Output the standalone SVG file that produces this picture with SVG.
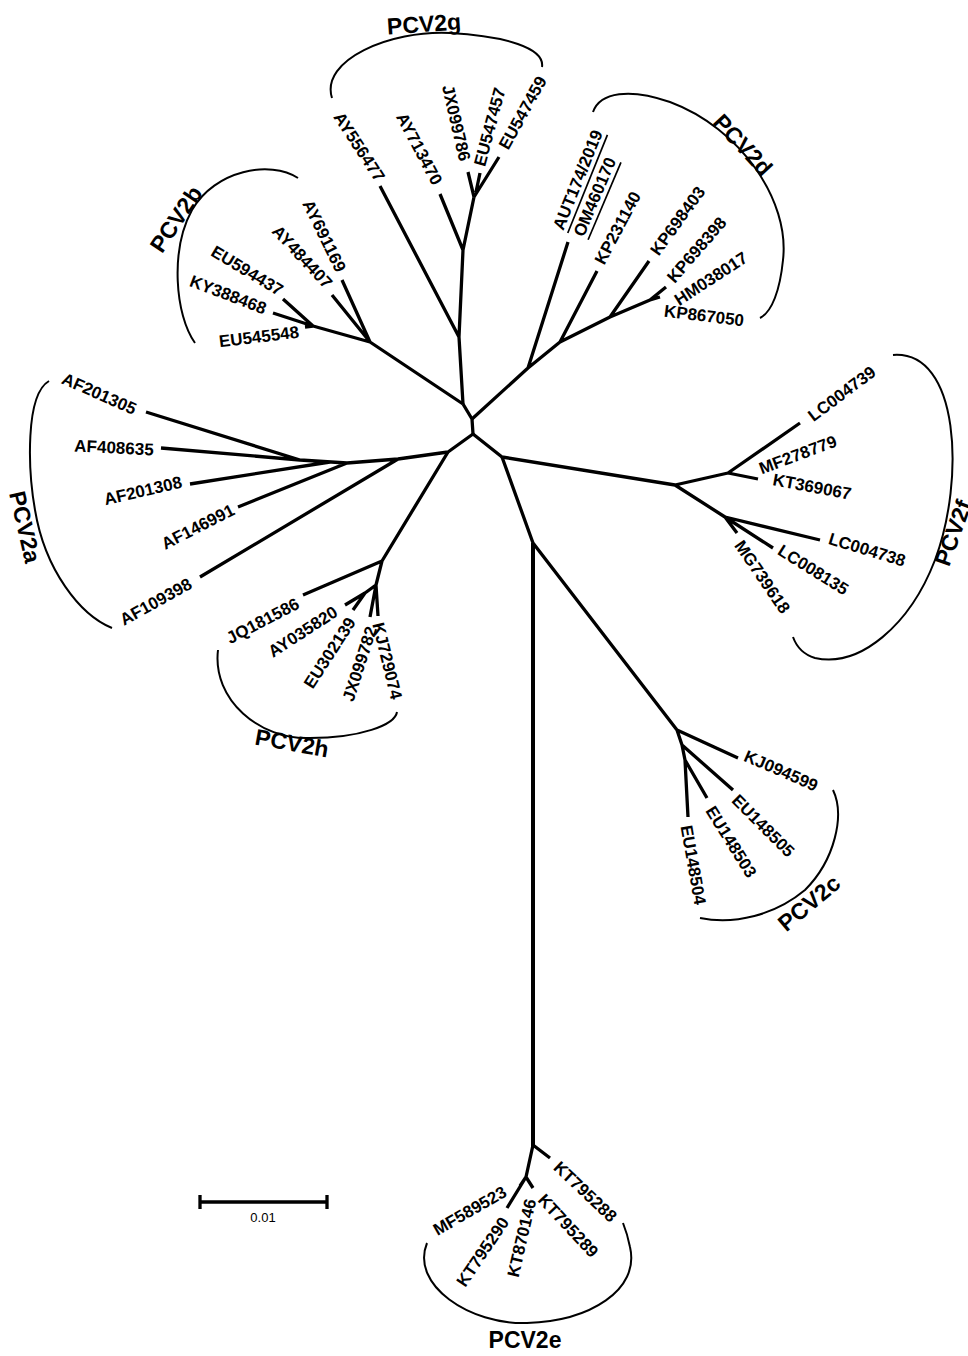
<svg xmlns="http://www.w3.org/2000/svg" width="968" height="1356" viewBox="0 0 968 1356">
<style>
.br{fill:none;stroke:#000;stroke-width:3.3;stroke-linejoin:round;stroke-linecap:butt}
.stem{fill:none;stroke:#000;stroke-width:4}
.arc{fill:none;stroke:#000;stroke-width:2}
.lb{font-family:"Liberation Sans",Arial,sans-serif;font-weight:bold;font-size:17px;text-anchor:middle;dominant-baseline:central;fill:#000}
.gl{font-family:"Liberation Sans",Arial,sans-serif;font-weight:bold;font-size:23px;text-anchor:middle;dominant-baseline:central;fill:#000}
.sc{font-family:"Liberation Sans",Arial,sans-serif;font-size:13px;text-anchor:middle;dominant-baseline:central;fill:#000}
</style>
<rect width="968" height="1356" fill="#fff"/>
<g id="connectors">
<path class="br" d="M463,404 L472,419 L473,434"/>
<path class="br" d="M472,419 L528,368 L560,342 L610,317 L650,300 L666,287 M650,300 L660,297 M528,368 L568,242 M560,342 L597,271 M610,317 L649,261"/>
<path class="br" d="M463,404 L459,337 L463,250 L474,197 M459,337 L380,186 M463,250 L440,194 M474,197 L468,172 M476,192 L480,173 M474,197 L499,157"/>
<path class="br" d="M463,404 L370,342 L342,280 M370,342 L332,295 M370,342 L313,326 L283,299 M313,326 L273,313 M313,326 L305,327"/>
<path class="br" d="M473,434 L448,452 L398,459 L347,463 L300,460 L146,412 M300,460 L161,448 M330,462 L190,484 M347,463 L238,507 M398,459 L200,577"/>
<path class="br" d="M448,452 L382,561 L376,585 M382,561 L303,595 M376,585 L365,593 L345,605 M365,593 L353,610 M376,585 L370,617 M376,585 L378,616"/>
<path class="br" d="M473,434 L502,457 L675,485 L728,473 L800,423 M728,473 L758,479 M675,485 L725,517 L820,540 M725,517 L773,548 M725,517 L737,533"/>
<path class="br" d="M502,457 L533,543 M533,543 L677,730 L738,758 M677,730 L682,745 L733,790 M682,745 L685,760 L707,798 M685,760 L688,817"/>
<path class="stem" d="M533,543 L533,1146"/>
<path class="br" d="M533,1145 L550,1158 M533,1145 L526,1177 L507,1208 M526,1177 L520,1186 M526,1177 L533,1188"/>
<path class="br" d="M200,1202 L327,1202 M200,1195 L200,1209 M327,1195 L327,1209"/>
</g>
<g id="PCV2g">
<path class="arc" d="M332,98 C320,60 390,30 450,33 C505,36 545,48 542,67"/>
<text class="gl" transform="translate(424,24) rotate(-4)">PCV2g</text>
<text class="lb" transform="translate(359,147) rotate(57)">AY556477</text>
<text class="lb" transform="translate(419,149) rotate(62)">AY713470</text>
<text class="lb" transform="translate(456,123) rotate(77)">JX099786</text>
<text class="lb" transform="translate(490,127) rotate(-75)">EU547457</text>
<text class="lb" transform="translate(523,113) rotate(-61)">EU547459</text>
</g>
<g id="PCV2d">
<path class="arc" d="M593,112 C600,92 630,88 670,102 C740,128 790,200 783,260 C780,290 772,312 760,318"/>
<text class="gl" transform="translate(743,145) rotate(47)">PCV2d</text>
<text class="lb" text-decoration="underline" transform="translate(578,180) rotate(-68)">AUT174/2019</text>
<text class="lb" text-decoration="underline" transform="translate(595,197) rotate(-67)">OM460170</text>
<text class="lb" transform="translate(618,228) rotate(-62)">KP231140</text>
<text class="lb" transform="translate(678,221) rotate(-54)">KP698403</text>
<text class="lb" transform="translate(697,250) rotate(-49)">KP698398</text>
<text class="lb" transform="translate(711,279) rotate(-33)">HM038017</text>
<text class="lb" transform="translate(704,316) rotate(7)">KP867050</text>
</g>
<g id="PCV2b">
<path class="arc" d="M298,178 C270,160 215,170 192,210 C170,250 175,315 195,343"/>
<text class="gl" transform="translate(176,219) rotate(-56)">PCV2b</text>
<text class="lb" transform="translate(324,236) rotate(64)">AY691169</text>
<text class="lb" transform="translate(302,257) rotate(47)">AY484407</text>
<text class="lb" transform="translate(247,271) rotate(31)">EU594437</text>
<text class="lb" transform="translate(228,295) rotate(21)">KY388468</text>
<text class="lb" transform="translate(259,337) rotate(-7)">EU545548</text>
</g>
<g id="PCV2a">
<path class="arc" d="M49,381 C25,395 28,470 35,510 C45,570 80,615 112,628"/>
<text class="gl" transform="translate(25,527) rotate(77)">PCV2a</text>
<text class="lb" transform="translate(99,394) rotate(24)">AF201305</text>
<text class="lb" transform="translate(114,448) rotate(3)">AF408635</text>
<text class="lb" transform="translate(143,491) rotate(-13)">AF201308</text>
<text class="lb" transform="translate(198,527) rotate(-27)">AF146991</text>
<text class="lb" transform="translate(156,602) rotate(-29)">AF109398</text>
</g>
<g id="PCV2h">
<path class="arc" d="M218,650 C212,700 260,740 310,738 C360,738 395,725 397,712"/>
<text class="gl" transform="translate(292,743) rotate(10)">PCV2h</text>
<text class="lb" transform="translate(263,621) rotate(-27.5)">JQ181586</text>
<text class="lb" transform="translate(303,632) rotate(-33)">AY035820</text>
<text class="lb" transform="translate(330,653) rotate(-57)">EU302139</text>
<text class="lb" transform="translate(360,664) rotate(-72)">JX099782</text>
<text class="lb" transform="translate(387,661) rotate(76)">KJ729074</text>
</g>
<g id="PCV2f">
<path class="arc" d="M893,355 C960,350 965,480 935,560 C910,625 860,668 815,658 C805,655 797,648 793,637"/>
<text class="gl" transform="translate(953,533) rotate(-70)">PCV2f</text>
<text class="lb" transform="translate(842,394) rotate(-37)">LC004739</text>
<text class="lb" transform="translate(798,455) rotate(-20.5)">MF278779</text>
<text class="lb" transform="translate(812,487) rotate(10.6)">KT369067</text>
<text class="lb" transform="translate(867,550) rotate(17)">LC004738</text>
<text class="lb" transform="translate(813,570) rotate(32)">LC008135</text>
<text class="lb" transform="translate(762,577) rotate(55.6)">MG739618</text>
</g>
<g id="PCV2c">
<path class="arc" d="M833,790 C845,815 835,860 805,890 C775,915 735,925 700,918"/>
<text class="gl" transform="translate(809,903) rotate(-40)">PCV2c</text>
<text class="lb" transform="translate(781,771) rotate(23.5)">KJ094599</text>
<text class="lb" transform="translate(763,826) rotate(45)">EU148505</text>
<text class="lb" transform="translate(731,842) rotate(58)">EU148503</text>
<text class="lb" transform="translate(693,865) rotate(80)">EU148504</text>
</g>
<g id="PCV2e">
<path class="arc" d="M427,1243 C410,1285 470,1325 527,1323 C590,1321 640,1290 630,1247 C628,1237 625,1228 623,1223"/>
<text class="gl" transform="translate(525,1340)">PCV2e</text>
<text class="lb" transform="translate(585,1192) rotate(43.5)">KT795288</text>
<text class="lb" transform="translate(568,1226) rotate(47)">KT795289</text>
<text class="lb" transform="translate(522,1238) rotate(-77)">KT870146</text>
<text class="lb" transform="translate(483,1252) rotate(-56)">KT795290</text>
<text class="lb" transform="translate(470,1211) rotate(-30)">MF589523</text>
</g>
<g id="scale">
<text class="sc" x="263" y="1217">0.01</text>
</g>
</svg>
